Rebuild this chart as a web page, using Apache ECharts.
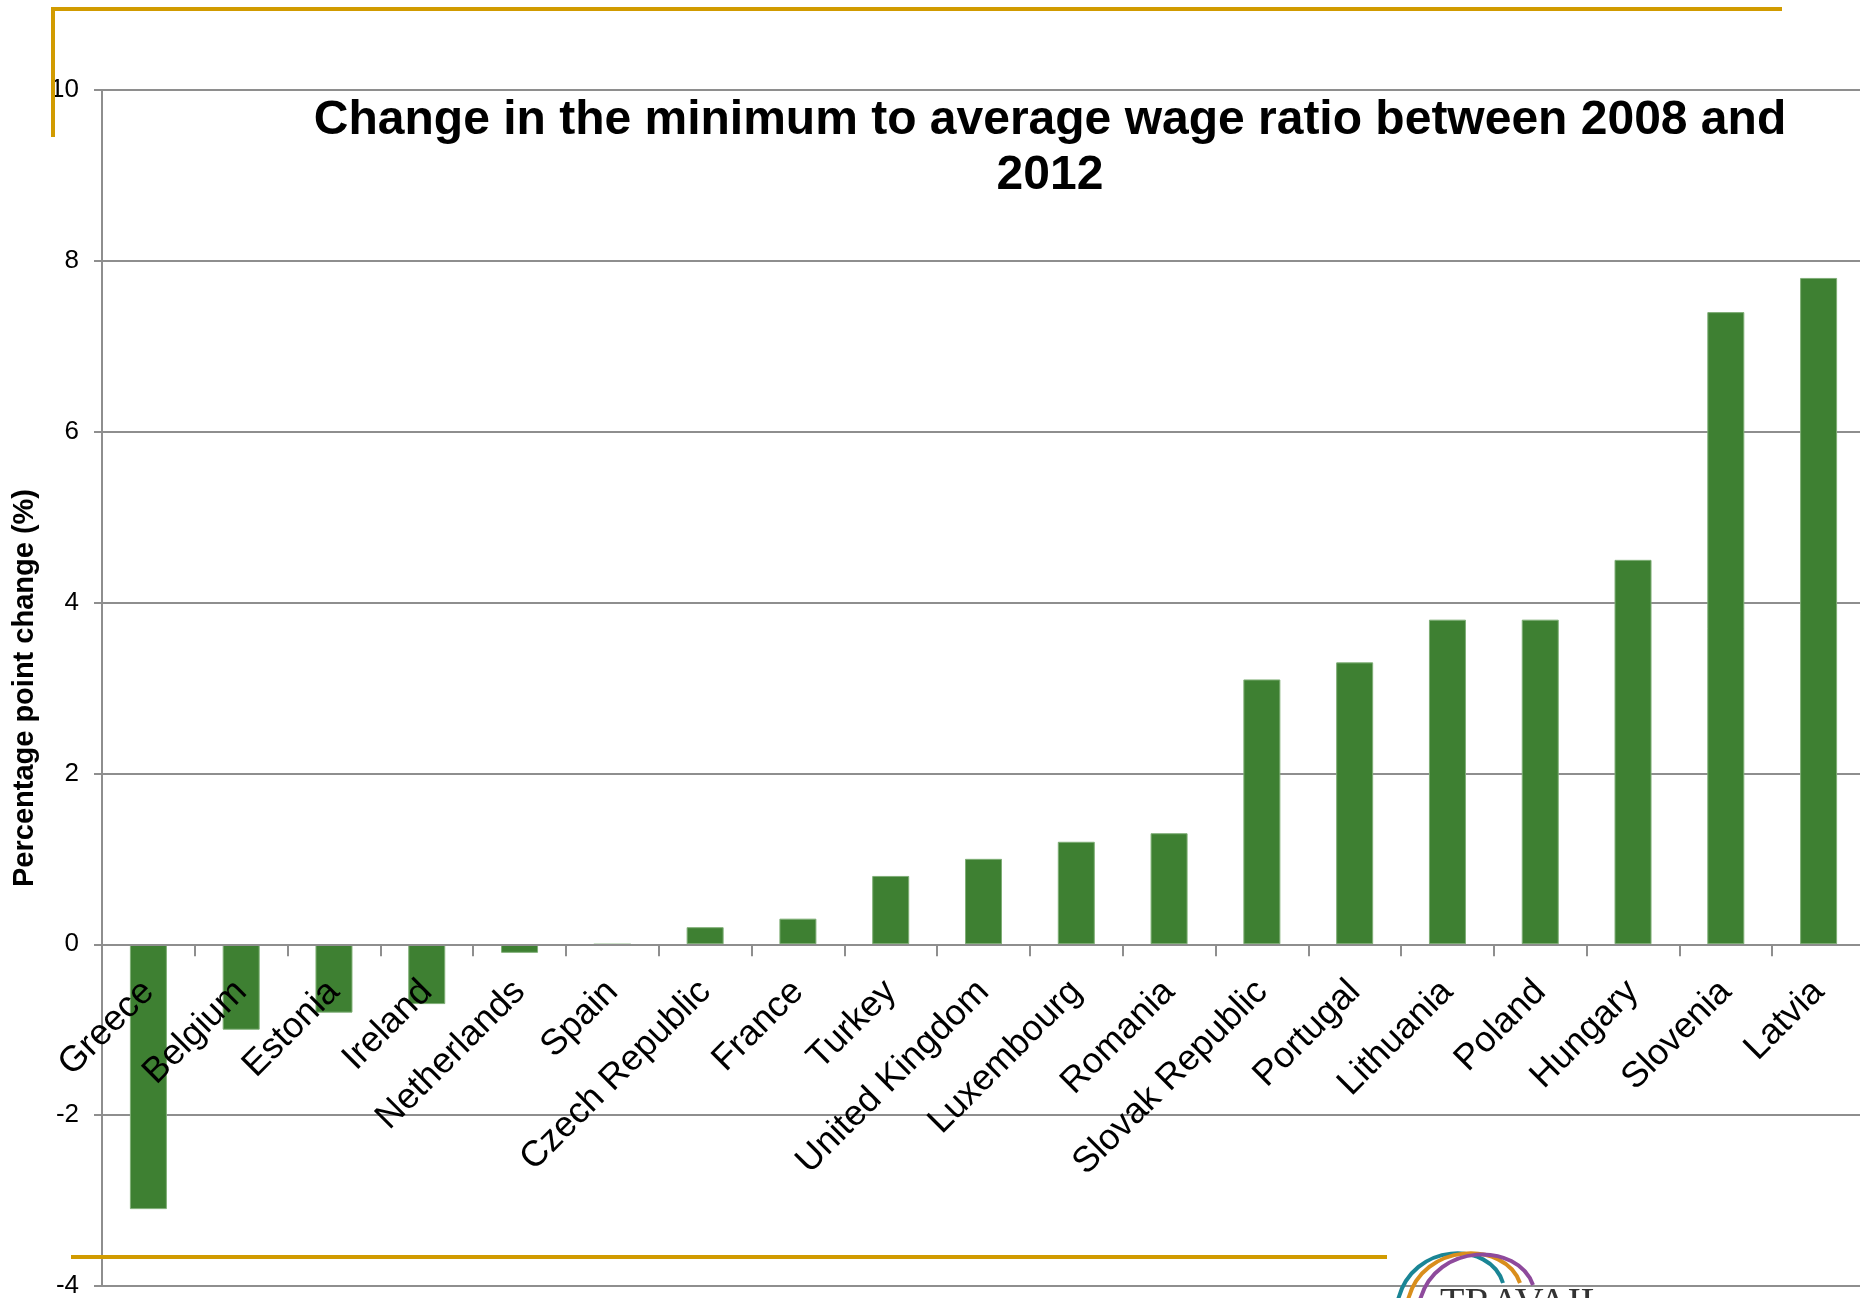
<!DOCTYPE html>
<html><head><meta charset="utf-8">
<script src="https://cdn.jsdelivr.net/npm/echarts@6/dist/echarts.min.js"></script>
<style>html,body{margin:0;padding:0;background:#fff}#c{width:1860px;height:1298px}</style>
</head><body><div id="c"></div>
<script>
const categories = ['Greece','Belgium','Estonia','Ireland','Netherlands','Spain','Czech Republic','France','Turkey','United Kingdom','Luxembourg','Romania','Slovak Republic','Portugal','Lithuania','Poland','Hungary','Slovenia','Latvia'];
const values = [-3.1,-1.0,-0.8,-0.7,-0.1,0,0.2,0.3,0.8,1.0,1.2,1.3,3.1,3.3,3.8,3.8,4.5,7.4,7.8];
const yMin = -4, yMax = 10, yStep = 2;
const titleLines = ['Change in the minimum to average wage ratio between 2008 and', '2012'];
const yAxisTitle = 'Percentage point change (%)';

const FONT = '"Liberation Sans", Arial, sans-serif';
const GRID = '#8e8e8e';
const GOLD = '#D19B00';

const W = 1860, H = 1298;
const gridTop = 90, gridBottom = 12;
const gridH = H - gridTop - gridBottom;
// move the category axis up to the value 0 line
const zeroOffset = -gridH * (0 - yMin) / (yMax - yMin);

const chart = echarts.init(document.getElementById('c'));
chart.setOption({
  backgroundColor: '#ffffff',
  animation: false,
  grid: { left: 102, right: -5, top: gridTop, bottom: gridBottom, containLabel: false, outerBoundsMode: 'none' },
  xAxis: {
    type: 'category',
    data: categories,
    position: 'bottom',
    offset: zeroOffset,
    z: 10,
    axisLine: { show: true, onZero: false, lineStyle: { color: GRID, width: 2 } },
    axisTick: { show: true, length: 12, lineStyle: { color: GRID, width: 2 } },
    axisLabel: { interval: 0, rotate: 45, fontSize: 36, color: '#000', fontFamily: FONT, margin: 42, hideOverlap: false },
    splitLine: { show: false }
  },
  yAxis: {
    type: 'value',
    min: yMin, max: yMax, interval: yStep,
    name: yAxisTitle,
    nameLocation: 'middle',
    nameGap: 58,
    nameTextStyle: { fontSize: 29, fontWeight: 'bold', color: '#000', fontFamily: FONT },
    axisLine: { show: true, lineStyle: { color: GRID, width: 2 } },
    axisTick: { show: true, length: 8, lineStyle: { color: GRID, width: 2 } },
    axisLabel: { fontSize: 26, color: '#000', fontFamily: FONT, margin: 23 },
    splitLine: { show: true, lineStyle: { color: GRID, width: 2 } }
  },
  series: [{
    type: 'bar',
    data: values,
    barWidth: 37,
    itemStyle: { color: '#3E8032', borderColor: '#7fae76', borderWidth: 1 },
    z: 3
  }],
  graphic: [
    { type: 'text', x: 1050, y: 148, z: 100,
      style: { text: titleLines.join('\n'), font: 'bold 48px ' + FONT, fill: '#000',
               textAlign: 'center', textVerticalAlign: 'middle', lineHeight: 55 } },
    { type: 'line', z: 100, shape: { x1: 53, y1: 9, x2: 1782, y2: 9 }, style: { stroke: GOLD, lineWidth: 4 } },
    { type: 'line', z: 100, shape: { x1: 53, y1: 7, x2: 53, y2: 137 }, style: { stroke: GOLD, lineWidth: 4 } },
    { type: 'line', z: 100, shape: { x1: 71, y1: 1257, x2: 1387, y2: 1257 }, style: { stroke: GOLD, lineWidth: 4 } },
    { type: 'bezierCurve', z: 100, shape: { x1: 1398, y1: 1300, cpx1: 1412, cpy1: 1242, cpx2: 1490, cpy2: 1240, x2: 1503, y2: 1283 }, style: { stroke: '#1A8595', lineWidth: 4, fill: null } },
    { type: 'bezierCurve', z: 100, shape: { x1: 1408, y1: 1300, cpx1: 1422, cpy1: 1242, cpx2: 1505, cpy2: 1240, x2: 1520, y2: 1283 }, style: { stroke: '#D98E1C', lineWidth: 4, fill: null } },
    { type: 'bezierCurve', z: 100, shape: { x1: 1420, y1: 1300, cpx1: 1436, cpy1: 1242, cpx2: 1518, cpy2: 1242, x2: 1533, y2: 1285 }, style: { stroke: '#8E4A9C', lineWidth: 4, fill: null } },
    { type: 'text', z: 100, x: 1440, y: 1284, style: { text: 'TRAVAIL', font: '40px "Liberation Serif", serif', fill: '#333', textVerticalAlign: 'top' } }
  ]
});
</script>
</body></html>
